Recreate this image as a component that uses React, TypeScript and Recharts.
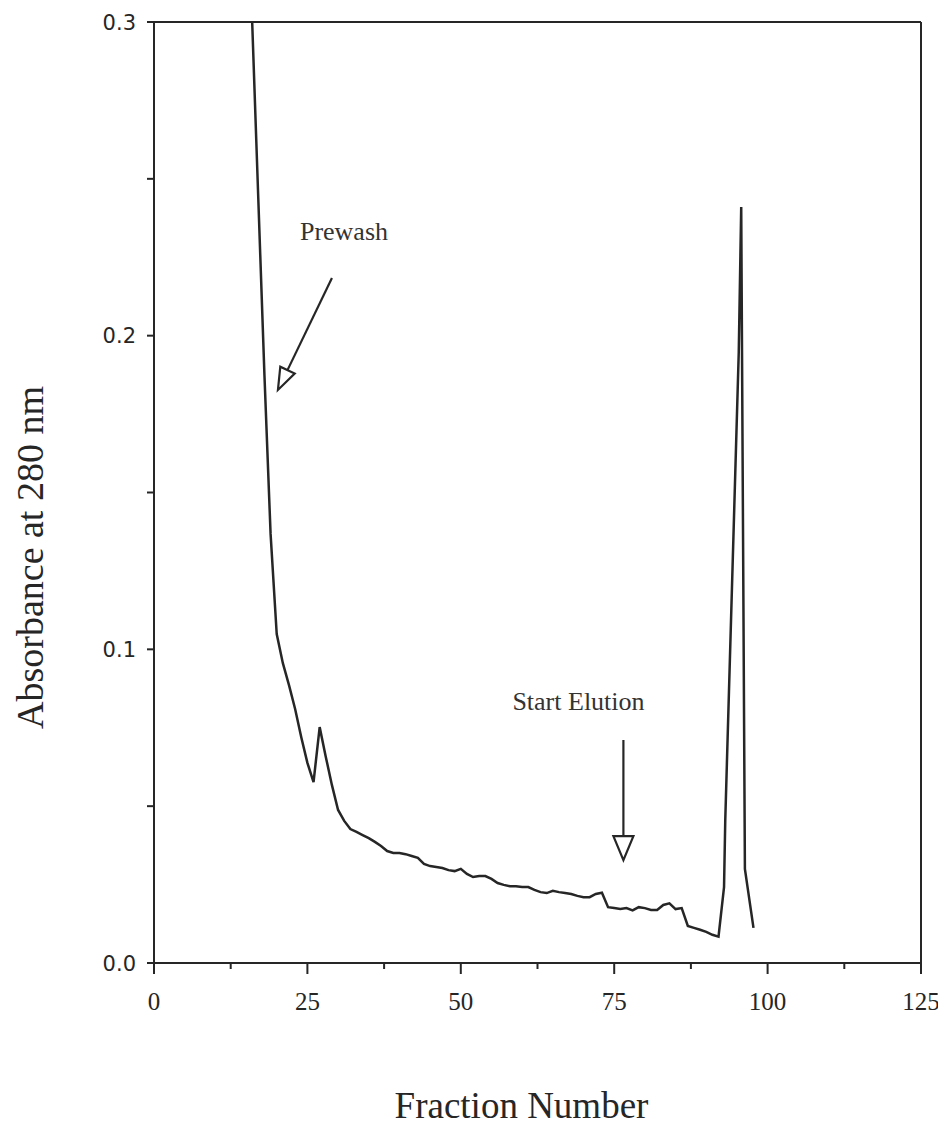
import { LineChart, Line, XAxis, YAxis, ReferenceLine, Label } from "recharts";

// digitized read-outs (fraction number -> A280)
const fractions = [
  16, 17, 18, 19, 20, 21, 22, 23, 24, 25, 26, 27, 28, 29, 30, 31, 32, 33, 34, 35,
  36, 37, 38, 39, 40, 41, 42, 43, 44, 45, 46, 47, 48, 49, 50, 51, 52, 53, 54, 55,
  56, 57, 58, 59, 60, 61, 62, 63, 64, 65, 66, 67, 68, 69, 70, 71, 72, 73, 74, 75,
  76, 77, 78, 79, 80, 81, 82, 83, 84, 85, 86, 87, 88, 89, 90, 91, 92, 92.9, 93.1,
  95.3, 95.7, 96.3, 97.7,
];
const absorbance = [
  0.3, 0.2435, 0.1874, 0.1368, 0.1049, 0.0956, 0.0886, 0.081, 0.072, 0.0638,
  0.0577, 0.0752, 0.0657, 0.0567, 0.0488, 0.0453, 0.0427, 0.0418, 0.0408, 0.0398,
  0.0386, 0.0373, 0.0357, 0.0351, 0.0351, 0.0347, 0.0341, 0.0335, 0.0316, 0.0309,
  0.0306, 0.0303, 0.0296, 0.0293, 0.03, 0.0284, 0.0274, 0.0277, 0.0277, 0.0268,
  0.0255, 0.0249, 0.0245, 0.0245, 0.0242, 0.0242, 0.0233, 0.0226, 0.0223, 0.023,
  0.0226, 0.0223, 0.022, 0.0214, 0.021, 0.021, 0.022, 0.0224, 0.0178, 0.0175,
  0.0172, 0.0175, 0.0168, 0.0178, 0.0175, 0.0169, 0.0169, 0.0185, 0.019, 0.0172,
  0.0175, 0.0118, 0.0112, 0.0106, 0.0099, 0.009, 0.0084, 0.0242, 0.0456,
  0.1948, 0.241, 0.03, 0.0112,
];

const xTicks = [0, 12.5, 25, 37.5, 50, 62.5, 75, 87.5, 100, 112.5, 125];
const xTickLabels = ["0", "", "25", "", "50", "", "75", "", "100", "", "125"];
const yTicks = [0, 0.05, 0.1, 0.15, 0.2, 0.25, 0.3];
const yTickLabels = ["0.0", "", "0.1", "", "0.2", "", "0.3"];

// annotation arrows, in data units: [tail, tip]
const prewashArrow = [
  { x: 29.0, y: 0.2184 },
  { x: 20.2, y: 0.1827 },
];
const elutionArrow = [
  { x: 76.5, y: 0.0711 },
  { x: 76.5, y: 0.0328 },
];

const data = fractions.map((f, i) => ({ fraction: f, abs: absorbance[i] }));

const INK = "#262626";
const SERIF = "'Liberation Serif', 'Times New Roman', serif";

const XTick = (props: any) => {
  const { x, y, payload } = props;
  const label = xTickLabels[xTicks.indexOf(payload.value)];
  return (
    <g>
      <line x1={x} y1={y} x2={x} y2={y + (label ? 11 : 6)} stroke={INK} strokeWidth={2} />
      {label && (
        <text x={x} y={y + 47} textAnchor="middle" fontFamily={SERIF} fontSize={25} fill={INK}>
          {label}
        </text>
      )}
    </g>
  );
};

const YTick = (props: any) => {
  const { x, y, payload } = props;
  const label = yTickLabels[yTicks.indexOf(payload.value)];
  return (
    <g>
      <line x1={x - 7} y1={y} x2={x} y2={y} stroke={INK} strokeWidth={2} />
      {label && (
        <text x={x - 18} y={y} dy="0.36em" textAnchor="end" fontFamily="'DejaVu Sans', sans-serif" fontSize={21} fill={INK}>
          {label}
        </text>
      )}
    </g>
  );
};

const arrow = (text: string, tdx: number, tdy: number, headLen: number, halfW: number) =>
  (props: any) => {
    const { x1, y1, x2, y2 } = props;
    const len = Math.hypot(x2 - x1, y2 - y1) || 1;
    const ux = (x2 - x1) / len;
    const uy = (y2 - y1) / len;
    const bx = x2 - ux * headLen;
    const by = y2 - uy * headLen;
    const px = -uy * halfW;
    const py = ux * halfW;
    return (
      <g>
        <line x1={x1} y1={y1} x2={bx} y2={by} stroke={INK} strokeWidth={2.2} />
        <polygon
          points={`${x2},${y2} ${bx + px},${by + py} ${bx - px},${by - py}`}
          fill="#fff"
          stroke={INK}
          strokeWidth={2.2}
        />
        <text x={x1 + tdx} y={y1 + tdy} fontFamily={SERIF} fontSize={26} fill="#333">
          {text}
        </text>
      </g>
    );
  };

export default function App() {
  return (
    <div style={{ width: 938, height: 1123, background: "#fff" }}>
      <LineChart width={938} height={1123} data={data} margin={{ top: 14, right: 25, bottom: 0, left: 0 }}>
        <XAxis
          dataKey="fraction"
          type="number"
          domain={[0, 125]}
          ticks={xTicks}
          interval={0}
          height={168}
          tick={XTick}
          tickLine={false}
          tickSize={0}
          tickMargin={0}
          axisLine={{ stroke: INK, strokeWidth: 2 }}
        >
          <Label
            content={(p: any) => {
              const vb = p.viewBox || { x: 146, y: 955, width: 767, height: 168 };
              return (
                <text x={vb.x + vb.width / 2 - 16} y={vb.y + 155} textAnchor="middle" fontFamily={SERIF} fontSize={37} fill={INK}>
                  Fraction Number
                </text>
              );
            }}
          />
        </XAxis>
        <YAxis
          type="number"
          domain={[0, 0.3]}
          ticks={yTicks}
          interval={0}
          width={146}
          tick={YTick}
          tickLine={false}
          tickSize={0}
          tickMargin={0}
          axisLine={{ stroke: INK, strokeWidth: 2 }}
        >
          <Label
            content={(p: any) => {
              const vb = p.viewBox || { x: 0, y: 14, width: 146, height: 941 };
              const cx = vb.x + 35;
              const cy = vb.y + vb.height / 2 + 65;
              return (
                <text x={cx} y={cy} transform={`rotate(-90 ${cx} ${cy})`} textAnchor="middle" fontFamily={SERIF} fontSize={38} fill={INK}>
                  Absorbance at 280 nm
                </text>
              );
            }}
          />
        </YAxis>
        <ReferenceLine y={0.3} stroke={INK} strokeWidth={2} />
        <ReferenceLine x={125} stroke={INK} strokeWidth={2} />
        <ReferenceLine segment={prewashArrow} shape={arrow("Prewash", -32, -38, 22, 8)} />
        <ReferenceLine segment={elutionArrow} shape={arrow("Start Elution", -111, -30, 24, 10)} />
        <Line
          type="linear"
          dataKey="abs"
          stroke={INK}
          strokeWidth={2.5}
          dot={false}
          isAnimationActive={false}
        />
      </LineChart>
    </div>
  );
}
